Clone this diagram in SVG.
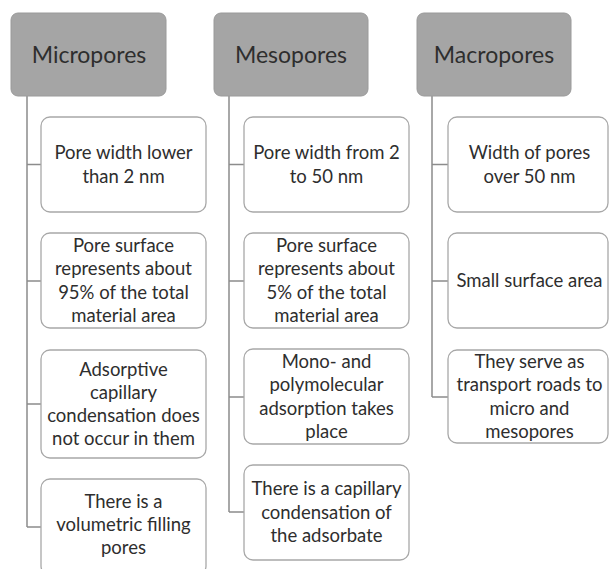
<svg xmlns="http://www.w3.org/2000/svg" width="609" height="569" viewBox="0 0 609 569">
<style>
.hd{fill:#a5a5a5;stroke:#9a9a9a;stroke-width:1}
.bx{fill:#ffffff;stroke:#a8a8a8;stroke-width:1.3}
.ht{font-family:Lato,"Open Sans","Liberation Sans",sans-serif;font-size:23px;fill:#2e2e2e;text-anchor:middle}
.t{font-family:Lato,"Open Sans","Liberation Sans",sans-serif;font-size:18.5px;fill:#2e2e2e;text-anchor:middle}
.c{fill:none;stroke:#8c8c8c;stroke-width:1.5}
</style>
<rect width="609" height="569" fill="#ffffff"/>
<g id="connectors">
<path class="c" d="M27,96 V527 M27,164.5 H41 M27,281 H41 M27,404 H41 M27,527 H41"/>
<path class="c" d="M229,96 V512 M229,164.5 H244 M229,281 H244 M229,397 H244 M229,512 H244"/>
<path class="c" d="M432,96 V397 M432,164.5 H448 M432,281 H448 M432,397 H448"/>
</g>
<g id="micropores">
<rect class="hd" x="11" y="13" width="155" height="83" rx="7"/>
<text class="ht" x="89" y="63">Micropores</text>
</g>
<g id="mesopores">
<rect class="hd" x="214" y="13" width="154" height="83" rx="7"/>
<text class="ht" x="291" y="63">Mesopores</text>
</g>
<g id="macropores">
<rect class="hd" x="417" y="13" width="154" height="83" rx="7"/>
<text class="ht" x="494" y="63">Macropores</text>
</g>
<g id="micro1">
<rect class="bx" x="41" y="117" width="165" height="95" rx="9"/>
<text class="t" x="123.5" y="159">Pore width lower</text>
<text class="t" x="123.5" y="183">than 2 nm</text>
</g>
<g id="micro2">
<rect class="bx" x="41" y="233" width="165" height="95" rx="9"/>
<text class="t" x="123.5" y="252">Pore surface</text>
<text class="t" x="123.5" y="275.3">represents about</text>
<text class="t" x="123.5" y="298.6">95% of the total</text>
<text class="t" x="123.5" y="321.9">material area</text>
</g>
<g id="micro3">
<rect class="bx" x="41" y="350" width="165" height="108" rx="9"/>
<text class="t" x="123.5" y="375.5">Adsorptive</text>
<text class="t" x="123.5" y="398.8">capillary</text>
<text class="t" x="123.5" y="422.1">condensation does</text>
<text class="t" x="123.5" y="445.4">not occur in them</text>
</g>
<g id="micro4">
<rect class="bx" x="41" y="479" width="165" height="96" rx="9"/>
<text class="t" x="123.5" y="508">There is a</text>
<text class="t" x="123.5" y="531">volumetric filling</text>
<text class="t" x="123.5" y="554">pores</text>
</g>
<g id="meso1">
<rect class="bx" x="244" y="117" width="165" height="95" rx="9"/>
<text class="t" x="326.5" y="159">Pore width from 2</text>
<text class="t" x="326.5" y="183">to 50 nm</text>
</g>
<g id="meso2">
<rect class="bx" x="244" y="233" width="165" height="95" rx="9"/>
<text class="t" x="326.5" y="252">Pore surface</text>
<text class="t" x="326.5" y="275.3">represents about</text>
<text class="t" x="326.5" y="298.6">5% of the total</text>
<text class="t" x="326.5" y="321.9">material area</text>
</g>
<g id="meso3">
<rect class="bx" x="244" y="349" width="165" height="95" rx="9"/>
<text class="t" x="326.5" y="368">Mono- and</text>
<text class="t" x="326.5" y="391.3">polymolecular</text>
<text class="t" x="326.5" y="414.7">adsorption takes</text>
<text class="t" x="326.5" y="438">place</text>
</g>
<g id="meso4">
<rect class="bx" x="244" y="465" width="165" height="95" rx="9"/>
<text class="t" x="326.5" y="495.2">There is a capillary</text>
<text class="t" x="326.5" y="518.5">condensation of</text>
<text class="t" x="326.5" y="541.8">the adsorbate</text>
</g>
<g id="macro1">
<rect class="bx" x="448" y="117" width="160" height="95" rx="9"/>
<text class="t" x="529.5" y="159">Width of pores</text>
<text class="t" x="529.5" y="183">over 50 nm</text>
</g>
<g id="macro2">
<rect class="bx" x="448" y="233" width="160" height="95" rx="9"/>
<text class="t" x="529.5" y="287">Small surface area</text>
</g>
<g id="macro3">
<rect class="bx" x="448" y="350" width="160" height="93" rx="9"/>
<text class="t" x="529.5" y="368">They serve as</text>
<text class="t" x="529.5" y="391.3">transport roads to</text>
<text class="t" x="529.5" y="414.7">micro and</text>
<text class="t" x="529.5" y="438">mesopores</text>
</g>
</svg>
